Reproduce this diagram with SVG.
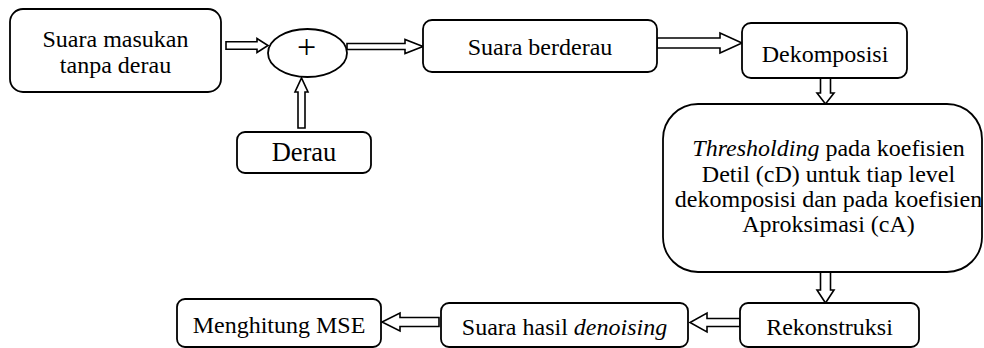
<svg xmlns="http://www.w3.org/2000/svg" width="984" height="348" viewBox="0 0 984 348">
<style>
.box{fill:#fff;stroke:#000;stroke-width:1.8}
.arr{fill:#fff;stroke:#000;stroke-width:1.6;stroke-linejoin:miter}
</style>
<rect width="984" height="348" fill="#fff"/>
<g id="connectors">
<polygon class="arr" points="226,41.7 257,41.7 257,38.5 268,45.5 257,52.5 257,49.3 226,49.3"/>
<polygon class="arr" points="347,43.5 405,43.5 405,39.5 423,46.5 405,53.5 405,49.5 347,49.5"/>
<polygon class="arr" points="657,38 720,38 720,33 742,43 720,53 720,48 657,48"/>
<polygon class="arr" points="298,128 298,92 295,92 301.5,78 308,92 305,92 305,128"/>
<polygon class="arr" points="820.5,78 820.5,93 817,93 825.5,104 834,93 830.5,93 830.5,78"/>
<polygon class="arr" points="820.5,272 820.5,290 817,290 825.5,303 834,290 830.5,290 830.5,272"/>
<polygon class="arr" points="740,318.5 707,318.5 707,313 690,322.5 707,332 707,326.5 740,326.5"/>
<polygon class="arr" points="439,317.5 400,317.5 400,313 382,322 400,331 400,326.5 439,326.5"/>
</g>
<g id="suara-masukan">
<rect class="box" x="10" y="9" width="211" height="83" rx="13"/>
<text x="115.5" y="47" font-family="Liberation Serif" font-size="24" text-anchor="middle">Suara masukan</text>
<text x="115.5" y="73" font-family="Liberation Serif" font-size="24" text-anchor="middle">tanpa derau</text>
</g>
<g id="plus">
<ellipse class="box" cx="307.5" cy="53" rx="39.5" ry="24"/>
<text x="306.5" y="58" font-family="Liberation Serif" font-size="34" text-anchor="middle">+</text>
</g>
<g id="derau">
<rect class="box" x="237" y="132" width="134" height="41" rx="8"/>
<text x="304" y="161" font-family="Liberation Serif" font-size="26.5" text-anchor="middle">Derau</text>
</g>
<g id="suara-berderau">
<rect class="box" x="423" y="20" width="234" height="52" rx="9"/>
<text x="540" y="55" font-family="Liberation Serif" font-size="24" text-anchor="middle">Suara berderau</text>
</g>
<g id="dekomposisi">
<rect class="box" x="742" y="23" width="165" height="55" rx="9"/>
<text x="825" y="62" font-family="Liberation Serif" font-size="24" text-anchor="middle">Dekomposisi</text>
</g>
<g id="thresholding">
<rect class="box" x="663" y="104" width="319" height="168" rx="35"/>
<text x="828.5" y="156" font-family="Liberation Serif" font-size="24" text-anchor="middle"><tspan font-style="italic">Thresholding</tspan> pada koefisien</text>
<text x="828.5" y="182" font-family="Liberation Serif" font-size="24" text-anchor="middle">Detil (cD) untuk tiap level</text>
<text x="828.5" y="207" font-family="Liberation Serif" font-size="24" text-anchor="middle">dekomposisi dan pada koefisien</text>
<text x="828.5" y="232" font-family="Liberation Serif" font-size="24" text-anchor="middle">Aproksimasi (cA)</text>
</g>
<g id="rekonstruksi">
<rect class="box" x="740" y="303" width="179" height="44" rx="8"/>
<text x="829.5" y="335" font-family="Liberation Serif" font-size="24" text-anchor="middle">Rekonstruksi</text>
</g>
<g id="suara-hasil">
<rect class="box" x="441" y="303" width="247" height="44" rx="8"/>
<text x="564.5" y="335" font-family="Liberation Serif" font-size="24" text-anchor="middle">Suara hasil <tspan font-style="italic">denoising</tspan></text>
</g>
<g id="mse">
<rect class="box" x="177" y="299" width="204" height="48" rx="8"/>
<text x="279" y="333" font-family="Liberation Serif" font-size="24" text-anchor="middle">Menghitung MSE</text>
</g>
</svg>
